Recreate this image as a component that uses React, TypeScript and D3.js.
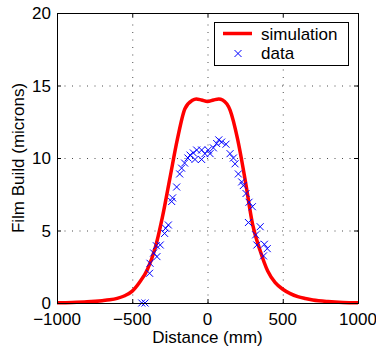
import React from "react";
import * as d3 from "d3";

const simX = [-1000, -900, -800, -700, -650, -600, -550, -500, -450, -400, -350, -300, -250, -200, -150, -100, -75, -40, 0, 40, 75, 100, 150, 200, 250, 300, 350, 400, 450, 500, 550, 600, 650, 700, 800, 900, 1000];
const simY = [0.02, 0.04, 0.08, 0.16, 0.22, 0.32, 0.5, 0.82, 1.45, 2.3, 3.7, 5.9, 8.6, 11.3, 13.4, 13.98, 14.07, 14.0, 13.9, 14.0, 14.07, 14.0, 13.3, 11.3, 8.5, 5.4, 3.6, 2.2, 1.4, 0.95, 0.65, 0.44, 0.31, 0.21, 0.1, 0.04, 0.02];

const dataX = [-437, -415, -385, -382, -358, -336, -340, -314, -285, -278, -260, -238, -232, -205, -185, -172, -152, -130, -116, -94, -72, -83, -39, -39, -17, 5, 17, 39, 61, 75, 94, 123, 150, 172, 183, 205, 227, 238, 256, 276, 298, 272, 350, 320, 328, 378, 397, 372];
const dataY = [0, 0, 2.05, 2.74, 3.45, 3.2, 3.95, 4.0, 4.8, 5.15, 5.38, 7.0, 7.25, 8.0, 8.9, 9.3, 9.65, 10.0, 10.2, 10.35, 10.55, 9.9, 10.55, 9.9, 10.3, 10.55, 10.3, 10.7, 11.0, 11.25, 11.1, 10.95, 10.3, 10.0, 9.6, 8.9, 8.35, 8.1, 7.55, 6.95, 6.64, 5.55, 5.26, 4.7, 4.0, 4.05, 3.75, 3.25];

const xTicks = [-1000, -500, 0, 500, 1000];
const yTicks = [0, 5, 10, 15, 20];
const xLabel = "Distance (mm)";
const yLabel = "Film Build (microns)";
const legendLabels = ["simulation", "data"];

const fmt = (v: number) => (v < 0 ? "\u2212" + Math.abs(v) : String(v));

export default function App() {
  const L = 57, R = 358, T = 13, B = 303;
  const x = d3.scaleLinear().domain([-1000, 1000]).range([L, R]);
  const y = d3.scaleLinear().domain([0, 20]).range([B, T]);
  const line = d3
    .line<number>()
    .x((_, i) => x(simX[i]))
    .y((d) => y(d))
    .curve(d3.curveMonotoneX);
  const font = "'Liberation Sans', Arial, Helvetica, sans-serif";
  const tk = 4;
  const cross = (cx: number, cy: number, k: string | number) => (
    <path
      key={k}
      d={`M${cx - 3.5},${cy - 3.5}L${cx + 3.5},${cy + 3.5}M${cx - 3.5},${cy + 3.5}L${cx + 3.5},${cy - 3.5}`}
      stroke="#0000ff"
      strokeWidth={1}
      fill="none"
    />
  );
  return (
    <svg width={376} height={350} style={{ position: "absolute", left: 0, top: 0, background: "#fff" }} fontFamily={font}>
      <rect x={0} y={0} width={376} height={350} fill="#fff" />
      {/* grid */}
      <g stroke="#000" strokeOpacity={0.7} strokeWidth={1} strokeDasharray="1,6.5">
        {xTicks.slice(1, -1).map((t) => (
          <line key={"gx" + t} x1={x(t) + 0.5} x2={x(t) + 0.5} y1={B} y2={T} />
        ))}
        {yTicks.slice(1, -1).map((t) => (
          <line key={"gy" + t} x1={L} x2={R} y1={y(t) + 0.5} y2={y(t) + 0.5} />
        ))}
      </g>
      {/* ticks */}
      <g stroke="#000" strokeWidth={1}>
        {xTicks.map((t) => (
          <g key={"tx" + t}>
            <line x1={x(t) + 0.5} x2={x(t) + 0.5} y1={B} y2={B - tk} />
            <line x1={x(t) + 0.5} x2={x(t) + 0.5} y1={T} y2={T + tk} />
          </g>
        ))}
        {yTicks.map((t) => (
          <g key={"ty" + t}>
            <line x1={L} x2={L + tk} y1={y(t) + 0.5} y2={y(t) + 0.5} />
            <line x1={R} x2={R - tk} y1={y(t) + 0.5} y2={y(t) + 0.5} />
          </g>
        ))}
      </g>
      {/* simulation */}
      <path d={line(simY) || ""} fill="none" stroke="#ff0000" strokeWidth={3.5} strokeLinejoin="round" />
      {/* data */}
      {dataX.map((d, i) => cross(x(d), y(dataY[i]), i))}
      {/* axes box */}
      <rect x={L + 0.5} y={T + 0.5} width={R - L} height={B - T} fill="none" stroke="#000" strokeWidth={1} />
      {/* tick labels */}
      <g fontSize={17} fill="#000">
        {xTicks.map((t) => (
          <text key={"lx" + t} x={x(t)} y={325} textAnchor="middle">
            {fmt(t)}
          </text>
        ))}
        {yTicks.map((t) => (
          <text key={"ly" + t} x={51} y={y(t) + 6} textAnchor="end">
            {fmt(t)}
          </text>
        ))}
      </g>
      <text x={(L + R) / 2} y={343} fontSize={17} textAnchor="middle">
        {xLabel}
      </text>
      <text transform={`translate(24,${(T + B) / 2}) rotate(-90)`} fontSize={17} textAnchor="middle">
        {yLabel}
      </text>
      {/* legend */}
      <rect x={214.5} y={22.5} width={134} height={43} fill="#fff" stroke="#000" strokeWidth={1} />
      <line x1={223} x2={252} y1={33.5} y2={33.5} stroke="#ff0000" strokeWidth={3.5} />
      {cross(238, 53.5, "leg")}
      <text x={261} y={39.5} fontSize={17}>
        {legendLabels[0]}
      </text>
      <text x={261} y={58.5} fontSize={17}>
        {legendLabels[1]}
      </text>
    </svg>
  );
}
